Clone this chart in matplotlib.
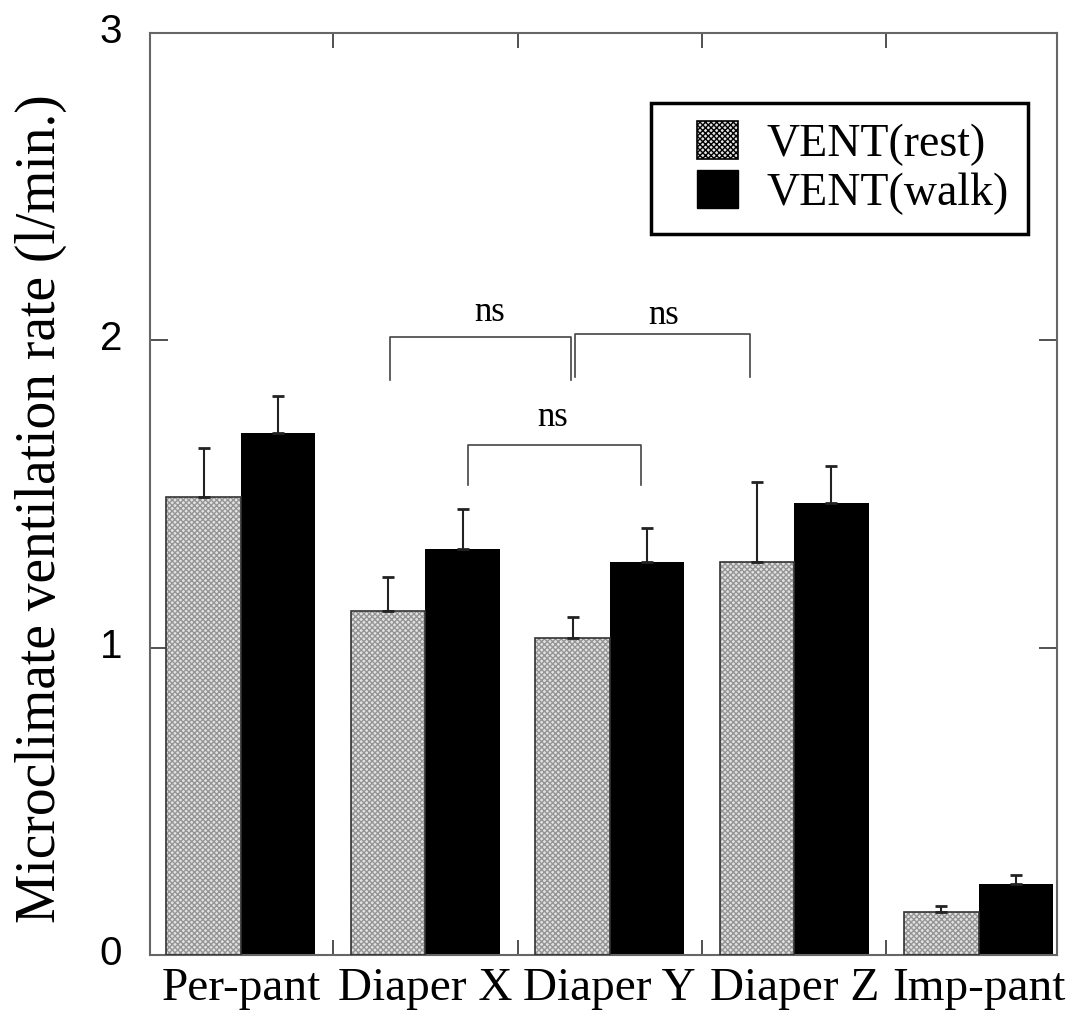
import matplotlib
matplotlib.use("Agg")
import matplotlib.pyplot as plt
from matplotlib.patches import Rectangle, Patch
from matplotlib.transforms import ScaledTranslation
import numpy as np

categories = ["Per-pant", "Diaper X", "Diaper Y", "Diaper Z", "Imp-pant"]
rest = [1.49, 1.12, 1.03, 1.28, 0.14]
rest_err = [0.16, 0.11, 0.07, 0.26, 0.02]
walk = [1.70, 1.32, 1.28, 1.47, 0.23]
walk_err = [0.12, 0.13, 0.11, 0.12, 0.03]
series_labels = ["VENT(rest)", "VENT(walk)"]
yticks = [0, 1, 2, 3]

# significance brackets: (x_left, x_right, y_top, y_bottom)
brackets = [
    (0.81, 1.79, 2.01, 1.87),
    (1.81, 2.76, 2.02, 1.88),
    (1.23, 2.17, 1.66, 1.53),
]
bracket_text = ["ns", "ns", "ns"]
bracket_text_xy = [(1.35, 2.09), (2.29, 2.08), (1.69, 1.75)]

serif = "Liberation Serif"
sans = "Liberation Sans"

fig = plt.figure(figsize=(10.79, 10.16), dpi=100)
ax = fig.add_axes([150/1079, 61/1016, 907/1079, 922/1016])

x = np.arange(len(categories))
w = 0.404

# rest bars: textured light gray
ax.bar(x - w/2, rest, w, facecolor="#e2e2e2", edgecolor="#959595", hatch="xxxxxx", linewidth=0, zorder=2)
ax.bar(x - w/2, rest, w, fill=False, edgecolor="#333333", linewidth=1.2, zorder=3)
ax.errorbar(x - w/2, rest, yerr=[np.zeros(len(rest)), rest_err], fmt="none",
            ecolor="#222222", elinewidth=1.5, capsize=4.5, capthick=2, zorder=4)
# walk bars: black
ax.bar(x + w/2, walk, w, color="black", edgecolor="black", linewidth=0, zorder=2)
ax.errorbar(x + w/2, walk, yerr=[np.zeros(len(walk)), walk_err], fmt="none",
            ecolor="#222222", elinewidth=1.5, capsize=4.5, capthick=2, zorder=4)

ax.set_xlim(-0.493, 4.425)
ax.set_ylim(0, 3)

ax.set_yticks(yticks)
ax.set_yticklabels([str(t) for t in yticks], fontfamily=sans, fontsize=29)
ax.tick_params(axis="y", direction="in", length=13, width=1.2, right=True, pad=20, colors="#333333", labelcolor="black")
offset = ScaledTranslation(0, 5 / 100, fig.dpi_scale_trans)
for lbl in ax.get_yticklabels():
    lbl.set_transform(lbl.get_transform() + offset)

ax.set_xticks(x)
ax.set_xticklabels(categories, fontfamily=serif, fontsize=34)
ax.tick_params(axis="x", which="major", length=0, pad=9)
ax.set_xticks(x[:-1] + 0.5, minor=True)
ax.tick_params(axis="x", which="minor", direction="in", length=11, width=1.2, top=True, colors="#333333")

for s in ax.spines.values():
    s.set_color("#666666")
    s.set_linewidth(1.5)

ax.set_ylabel("Microclimate ventilation rate (l/min.)", fontfamily=serif, fontsize=40)
ax.yaxis.set_label_coords(-0.092, 0.484)

for (xl, xr, yt, yb), txt, (tx, ty) in zip(brackets, bracket_text, bracket_text_xy):
    ax.plot([xl, xl, xr, xr], [yb, yt, yt, yb], color="#444444", linewidth=1.2, zorder=5)
    ax.text(tx, ty, txt, ha="center", va="center", fontfamily=serif, fontsize=25)

# legend with manual frame
handles = [Patch(facecolor="#e2e2e2", edgecolor="black", hatch="xxxxxx", linewidth=1.2),
           Patch(facecolor="black", edgecolor="black")]
leg = ax.legend(handles, series_labels, loc="upper left",
                bbox_to_anchor=((697 - 150) / 907, (955 - 121) / 922),
                frameon=False, borderpad=0, borderaxespad=0,
                handlelength=0.9, handleheight=0.9, handletextpad=0.62,
                labelspacing=0.1, prop={"family": serif, "size": 33})
ax.add_patch(Rectangle(((651 - 150) / 907, (955 - 234) / 922), (1028 - 651) / 907, (234 - 103) / 922,
                       transform=ax.transAxes, fill=False, edgecolor="black", linewidth=2.5, zorder=6))

fig.savefig("out.png", dpi=100)
